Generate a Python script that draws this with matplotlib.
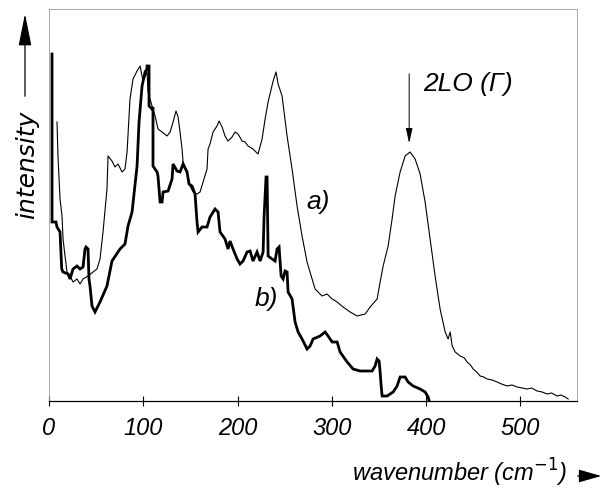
import matplotlib
matplotlib.use("Agg")
import matplotlib.pyplot as plt

# spectrum a) (thin trace), wavenumber in cm^-1 and intensity in arb. units
wn_a = [8.5, 9.5, 11.7, 13.8, 14.9, 17, 19.1, 22.3, 25.5, 29.7, 32.9, 36.1, 41.4, 46.7,
        50.9, 54.1, 57.3, 61.5, 62.6, 66.8, 70, 73.2, 77.5, 80.6, 82.8, 85.9, 89.1, 93.4,
        96.6, 99.7, 104, 105, 109.3, 112.5, 115.6, 119.9, 125.2, 128.4, 131.6, 134.7,
        136.9, 139, 141.1, 142.2, 146.4, 149.6, 152.8, 157, 160.2, 163.4, 167.6, 168.7,
        170.8, 174, 178.2, 180.4, 183.6, 186.7, 189.9, 194.2, 197.3, 200.5, 204.8, 208,
        211.1, 216.4, 221.7, 226, 229.2, 232.4, 237.7, 240.8, 243, 247.2, 252.5, 257.8,
        263.1, 268.4, 273.7, 279, 282.2, 289.6, 294.9, 300.3, 305.6, 311.9, 319.4, 326.8,
        335.3, 340.6, 348, 351.2, 354.4, 359.7, 363.9, 367.1, 372.4, 377.7, 383, 388.3,
        393.6, 398.9, 404.2, 409.5, 414.8, 420.2, 423.3, 425.5, 427.6, 430.8, 436.1,
        440.5, 443.5, 447, 449.9, 453.5, 457.3, 461, 464.7, 470, 475.3, 480, 485.9, 491,
        496.5, 502, 507.1, 512, 517.7, 523, 528.3, 533, 538.9, 543, 547.4, 550.6]
int_a = [279, 245, 202, 185, 162, 145, 129, 125, 119, 122, 117, 122, 125, 129,
         132, 142, 169, 212, 245, 240, 234, 237, 229, 232, 249, 302, 322, 330,
         335, 320, 329, 309, 295, 285, 272, 269, 265, 269, 279, 290,
         284, 269, 252, 239, 229, 215, 209, 207, 209, 219, 232, 252,
         257, 269, 275, 280, 274, 265, 260, 264, 269, 267, 260, 259,
         255, 252, 247, 262, 282, 299, 320, 329, 317, 305, 265, 232,
         195, 165, 139, 122, 112, 105, 107, 102, 99, 94, 89, 85,
         87, 94, 102, 119, 135, 155, 182, 205, 229, 245, 249, 242,
         227, 199, 162, 125, 92, 69, 62, 69, 55, 49, 45,
         43, 39, 36, 32, 29, 25, 24, 22, 21, 19, 17, 15, 16,
         14, 13, 12, 13, 10, 9, 7, 8, 5, 6, 4, 2]

# spectrum b) (thick trace)
wn_b = [3.2, 3.2, 7.4, 8.5, 11.7, 13.5, 14.9, 20.2, 22.3, 25.5, 29.7, 32.9, 36.1, 38.2,
        39.3, 41.4, 42.4, 43.5, 45.6, 48.8, 54.1, 61.5, 66.8, 75.3, 80.6, 83.8, 88.1,
        93.4, 95.5, 98.7, 101.9, 104, 104, 106.1, 106.1, 109.3, 110.3, 110.3, 114.6,
        115.6, 117.8, 119.9, 121, 126.3, 130.5, 131.6, 135.8, 139, 142.2, 146.4, 148.5,
        151.7, 154.9, 157, 158.1, 162.3, 167.6, 170.8, 176.1, 179.3, 181.4, 186.7, 189.9,
        192, 195.2, 199.5, 202.6, 205.8, 210.1, 213.3, 216.4, 220.7, 223.9, 227.1, 228.1,
        230.2, 231.3, 232.4, 236.6, 239.8, 241.9, 244, 246.2, 248.3, 250.4, 252.5, 253.6,
        257.8, 261, 264.2, 268.4, 273.7, 276.9, 280.1, 287.5, 292.8, 296, 300.3, 305.6,
        308.7, 316.2, 322.5, 330, 342.7, 345.9, 348, 350.1, 351.2, 352.3, 353.3, 358.6,
        365, 369.2, 372.4, 377.7, 380.9, 386.2, 393.6, 398.9, 402.1, 403.2]
int_b = [347, 179, 179, 174, 169, 132, 129, 127, 122, 132, 135, 132, 134, 152,
         154, 152, 122, 115, 95, 89, 99, 115, 140, 152, 157, 175, 189,
         235, 279, 315, 329, 332, 335, 335, 295, 292, 294, 235, 229,
         225, 199, 199, 209, 210, 222, 237, 230, 229, 237, 229, 217,
         215, 207, 179, 169, 174, 174, 184, 192, 189, 169, 162, 152,
         160, 152, 142, 137, 140, 149, 150, 140, 149, 140, 149, 184,
         224, 224, 145, 142, 140, 152, 154, 125, 122, 130, 129, 109,
         102, 79, 69, 62, 52, 55, 62, 65, 69, 65, 59, 59,
         49, 39, 32, 30, 30, 35, 42, 40, 29, 15, 5, 5,
         9, 15, 24, 24, 19, 15, 12, 9, 4, 0]

xticks = [0, 100, 200, 300, 400, 500]

plt.rcParams['font.family'] = ['Liberation Sans', 'DejaVu Sans']

fig = plt.figure(figsize=(6.07, 4.89), dpi=100)
ax = fig.add_axes([49/607, 87/489, 528/607, 392/489])

ax.plot(wn_a, int_a, color='black', lw=0.8)
ax.plot(wn_b, int_b, color='black', lw=2.0, solid_joinstyle='miter')

ax.set_xlim(0, 560)
ax.set_ylim(0, 392)
ax.set_yticks([])
ax.set_xticks(xticks)
ax.set_xticklabels([str(t) for t in xticks], fontstyle='italic', fontsize=17)
ax.tick_params(axis='x', direction='inout', length=7, width=0.8, pad=7)

for side in ['left', 'top', 'right']:
    ax.spines[side].set_color('#9a9a9a')
    ax.spines[side].set_linewidth(0.6)
ax.spines['bottom'].set_linewidth(0.9)

# curve labels and the 2LO marker
ax.text(285, 200, 'a)', fontsize=19, fontstyle='italic', ha='center', va='center')
ax.text(231, 103, 'b)', fontsize=19, fontstyle='italic', ha='center', va='center')
ax.annotate('', xy=(382, 255), xytext=(382, 330),
            arrowprops=dict(arrowstyle='-|>,head_length=0.9,head_width=0.2',
                            color='black', lw=0.7))
ax.text(397, 318, '2LO (Γ)', fontsize=19, fontstyle='italic', ha='left', va='center')

# axis titles with arrows
fig.text(352/607, 1 - 482/489, 'wavenumber (cm$^{-1}$)', fontsize=17,
         fontstyle='italic', ha='left', va='baseline')
fig.patches.append(matplotlib.patches.FancyArrowPatch(
    (575/607, 1 - 477/489), (604/607, 1 - 477/489), transform=fig.transFigure,
    arrowstyle='-|>,head_length=0.7,head_width=0.2', color='black', lw=0.9,
    mutation_scale=20))
fig.text(27/607, 1 - 165/489, 'intensity', fontsize=18, fontstyle='italic',
         family=['DejaVu Sans'], rotation=90, ha='center', va='center')
fig.patches.append(matplotlib.patches.FancyArrowPatch(
    (25/607, 1 - 100/489), (25/607, 1 - 12/489), transform=fig.transFigure,
    arrowstyle='-|>,head_length=1.0,head_width=0.2', color='black', lw=0.9,
    mutation_scale=20))

fig.savefig('out.png', dpi=100)
